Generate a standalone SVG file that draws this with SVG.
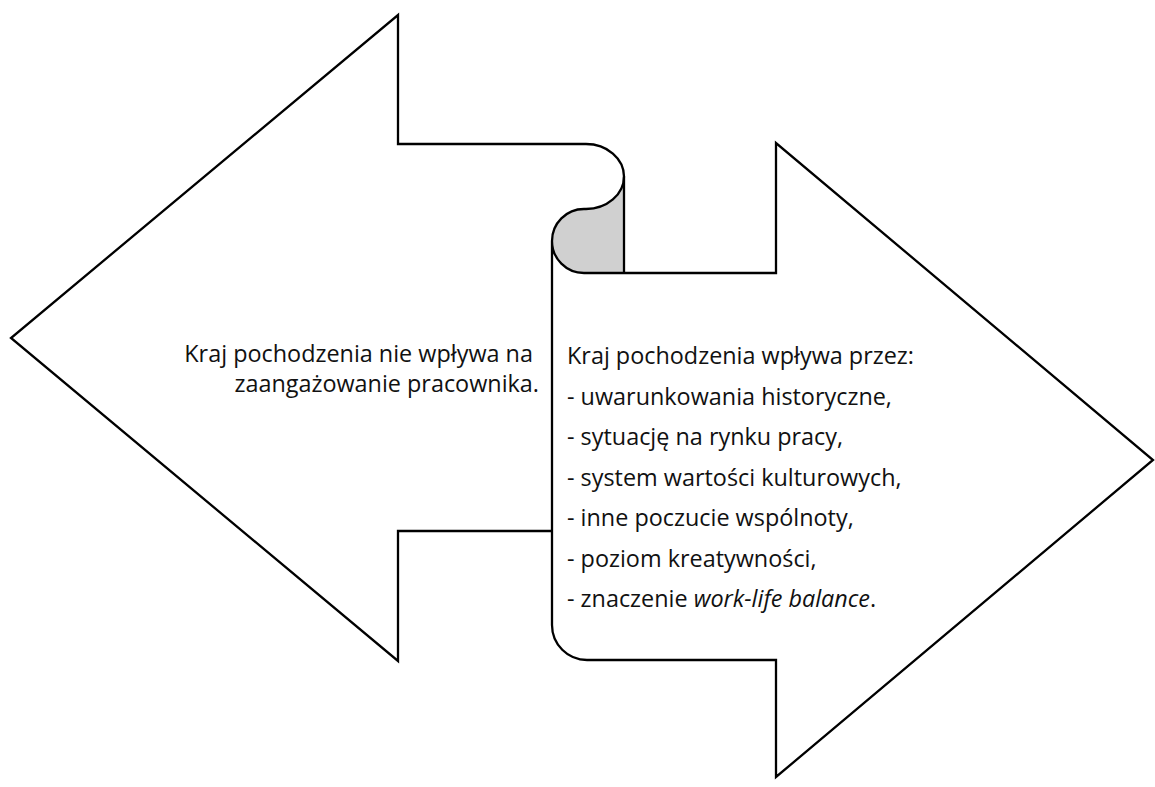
<svg xmlns="http://www.w3.org/2000/svg" width="1155" height="787" viewBox="0 0 1155 787">
  <style>
    .outline { fill: none; stroke: #000; stroke-width: 2.3; stroke-linejoin: miter; }
    .shade { fill: #d0d0d0; stroke: none; }
    .label { font-family: "Open Sans", "Liberation Sans", Arial, sans-serif; font-size: 23.4px; fill: #111; }
  </style>
  <rect x="0" y="0" width="1155" height="787" fill="#fff"/>

  <!-- left-pointing arrow -->
  <g id="arrow-left">
    <path class="outline" d="M 552,531 L 398,531 L 398,661 L 11,338 L 398,15 L 398,144 L 586,144"/>
    <text class="label" text-anchor="end">
      <tspan x="539" y="362">Kraj pochodzenia nie wpływa na</tspan>
      <tspan x="539" y="392">zaangażowanie pracownika.</tspan>
    </text>
  </g>

  <!-- scroll that turns into the right-pointing arrow -->
  <g id="arrow-right">
    <path class="shade" d="M 624,176.5 L 624,273 L 584,273 A 32 32 0 0 1 584,209 L 586,209 A 38 32.5 0 0 0 624,176.5 Z"/>
    <path class="outline" d="M 586,144 A 38 32.5 0 0 1 624,176.5 A 38 32.5 0 0 1 586,209 L 584,209 A 32 32 0 0 0 552,241 A 32 32 0 0 0 584,273 L 776,273 L 776,143 L 1153,460 L 776,777 L 776,660 L 587,660 A 35 35 0 0 1 552,625 L 552,241"/>
    <path class="outline" d="M 624,176.5 L 624,273"/>
    <text class="label">
      <tspan x="567" y="364">Kraj pochodzenia wpływa przez:</tspan>
      <tspan x="567" y="404.5">- uwarunkowania historyczne,</tspan>
      <tspan x="567" y="445">- sytuację na rynku pracy,</tspan>
      <tspan x="567" y="485.5">- system wartości kulturowych,</tspan>
      <tspan x="567" y="526">- inne poczucie wspólnoty,</tspan>
      <tspan x="567" y="566.5">- poziom kreatywności,</tspan>
      <tspan x="567" y="607">- znaczenie <tspan font-style="italic">work-life balance</tspan>.</tspan>
    </text>
  </g>
</svg>
